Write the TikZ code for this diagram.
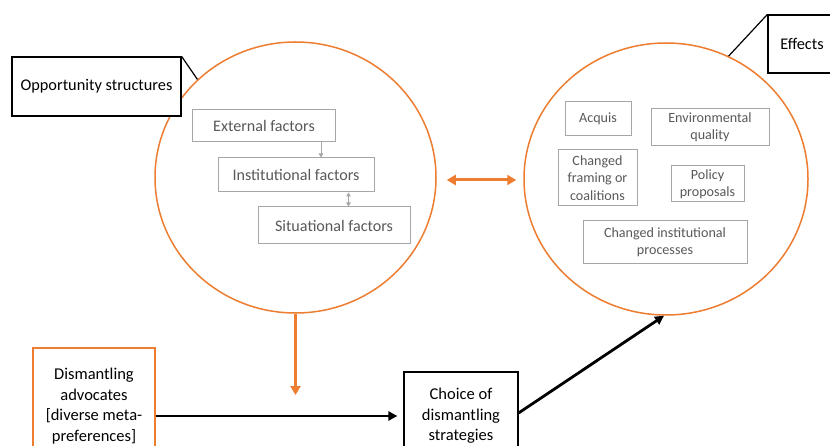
\documentclass[tikz,border=0pt]{standalone}
\usepackage{fontspec}
\setmainfont{Carlito}
\usetikzlibrary{shapes.geometric,arrows.meta,calc}
\definecolor{orng}{HTML}{ED7D31}
\definecolor{gtext}{HTML}{595959}
\definecolor{gline}{HTML}{A6A6A6}
\tikzset{
  circ/.style={ellipse,draw=orng,line width=1.5pt,inner sep=0pt},
  callout/.style={draw=black,line width=1.2pt,align=center,inner sep=0pt,font=\fontsize{16.3}{19}\selectfont},
  gbox/.style={draw=gline,line width=1pt,align=center,inner sep=0pt,text=gtext,font=\fontsize{16.1}{19}\selectfont},
  ebox/.style={draw=gline,line width=1pt,align=center,inner sep=0pt,text=gtext,font=\fontsize{14.1}{17.2}\selectfont},
  mainbox/.style={line width=1.2pt,align=center,inner sep=0pt,font=\fontsize{16.5}{20.6}\selectfont},
  garrow/.style={draw=gline,line width=1pt,-{Triangle[length=4pt,width=4.5pt]}},
  gdarrow/.style={draw=gline,line width=1pt,{Triangle[length=4pt,width=4.5pt]}-{Triangle[length=4pt,width=4.5pt]}},
  oarrow/.style={draw=orng,line width=3pt,-{Triangle[length=9pt,width=10pt]}},
  odarrow/.style={draw=orng,line width=3pt,{Triangle[length=9pt,width=10pt]}-{Triangle[length=9pt,width=10pt]}},
  barrow/.style={draw=black,line width=2.8pt,-{Triangle[length=9pt,width=9pt]}},
}
\begin{document}
\begin{tikzpicture}[x=1pt,y=-1pt]
\clip (0,0) rectangle (830,446);
\fill[white] (0,0) rectangle (830,446);

% circles
\node[circ,minimum width=281pt,minimum height=271pt] (lc) at (295.5,177.5) {};
\node[circ,minimum width=284pt,minimum height=272pt] (rc) at (666,179) {};

% callouts
\node[callout,fill=white,minimum width=169pt,minimum height=59pt] (opp) at (96.5,86.5) {Opportunity structures};
\draw[line width=1.2pt] (opp.north east) -- (lc.135);
\node[callout,fill=white,minimum width=68pt,minimum height=58pt] (eff) at (802,44) {Effects};
\draw[line width=1.2pt] (eff.north west) -- (rc.63);

% left inner boxes
\node[gbox,minimum width=143pt,minimum height=32pt] (ext) at (264,125.5) {External factors};
\node[gbox,minimum width=156pt,minimum height=34pt] (inst) at (296,175) {Institutional factors};
\node[gbox,minimum width=152pt,minimum height=37pt] (sit) at (334,225.5) {Situational factors};
\draw[garrow] ([xshift=-15pt]ext.south east) -- ([xshift=-15pt]ext.south east |- inst.north);
\draw[gdarrow] ([xshift=-26pt]inst.south east) -- ([xshift=-26pt]inst.south east |- sit.north);

% right inner boxes
\node[ebox,minimum width=66pt,minimum height=34pt] (acq) at (598,119) {Acquis};
\node[ebox,minimum width=118pt,minimum height=37pt] (env) at (710,127.5) {Environmental\\quality};
\node[ebox,minimum width=79pt,minimum height=56pt] (chf) at (597.5,178) {Changed\\framing or\\coalitions};
\node[ebox,minimum width=73pt,minimum height=36pt] (pol) at (707.5,184) {Policy\\proposals};
\node[ebox,minimum width=164pt,minimum height=43pt] (cip) at (665,242.5) {Changed institutional\\processes};

% orange double arrow
\draw[odarrow] ([xshift=10pt]lc.east |- 0,180) -- ([xshift=-7pt]rc.west |- 0,180);

% bottom boxes
\node[mainbox,draw=orng,minimum width=122pt,minimum height=116pt] (adv) at (94,406) {Dismantling\\advocates\\{[}diverse meta-\\preferences{]}};
\node[mainbox,draw=black,minimum width=114pt,minimum height=88pt] (cho) at (461,416) {Choice of\\dismantling\\strategies};

\draw[barrow] (adv.east |- cho.west) -- ([xshift=-6pt]cho.west);
\draw[oarrow] (lc.south) -- ([yshift=21pt]lc.south |- cho.west);
\draw[barrow] ([yshift=3pt]cho.east) -- ([xshift=-2pt]rc.south);
\end{tikzpicture}
\end{document}
